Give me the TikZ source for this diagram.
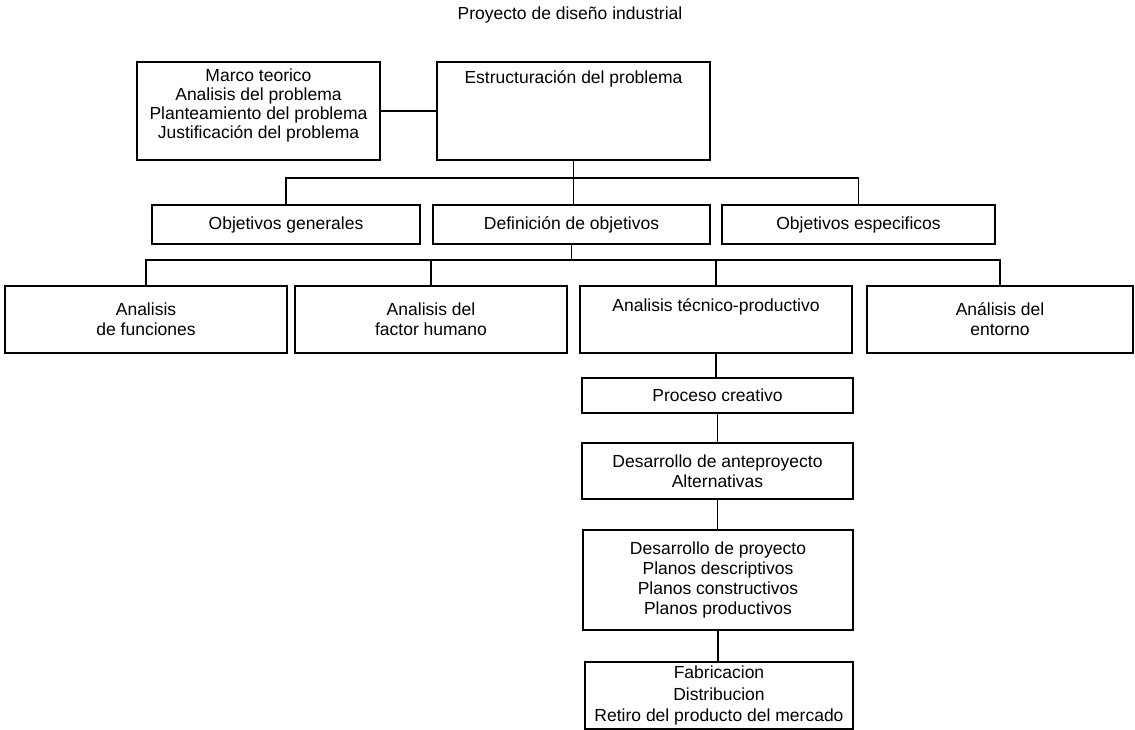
\documentclass[tikz,border=0pt]{standalone}
\usepackage{fontspec}
\setmainfont{Liberation Sans}
\begin{document}
\begin{tikzpicture}[x=1bp,y=-1bp,
  every node/.style={font=\fontsize{17.5bp}{20bp}\selectfont},
  box/.style={draw, line width=2bp, rectangle, inner sep=0pt, align=center},
  link/.style={line width=1.8bp}]
\useasboundingbox (0,0) rectangle (1135,730);

% title
\node (title) at (570,15) {Proyecto de diseño industrial};

% problem structure
\node[box, minimum width=243bp, minimum height=98bp,
      font=\fontsize{17.5bp}{19bp}\selectfont] (marco) at (258.5,111)
  {Marco teorico\\Analisis del problema\\Planteamiento del problema\\Justificación del problema\\[-4bp]\mbox{}};
\node[box, minimum width=273bp, text height=22bp, text depth=76bp] (estr) at (573.5,111)
  {Estructuración del problema};

% objectives
\node[box, minimum width=268bp, minimum height=39bp] (ogen) at (286,224.5) {Objetivos generales};
\node[box, minimum width=277bp, minimum height=39bp] (def) at (571.5,224.5) {Definición de objetivos};
\node[box, minimum width=273bp, minimum height=39bp] (oesp) at (858.5,224.5) {Objetivos especificos};

% analyses
\node[box, minimum width=282bp, minimum height=67bp] (afun) at (146,319.5) {Analisis\\de funciones};
\node[box, minimum width=272bp, minimum height=67bp] (afh) at (431,319.5) {Analisis del\\factor humano};
\node[box, minimum width=272bp, text height=25bp, text depth=42bp] (atec) at (716,319.5)
  {Analisis técnico-productivo};
\node[box, minimum width=266bp, minimum height=67bp] (aent) at (1000,319.5) {Análisis del\\entorno};

% design chain
\node[box, minimum width=271bp, minimum height=35bp] (proc) at (717.5,395) {Proceso creativo};
\node[box, minimum width=271bp, minimum height=56bp] (antep) at (717.5,471)
  {Desarrollo de anteproyecto\\Alternativas};
\node[box, minimum width=270bp, minimum height=100bp] (proy) at (718,580)
  {Desarrollo de proyecto\\Planos descriptivos\\Planos constructivos\\Planos productivos};
\node[box, minimum width=268bp, minimum height=67bp, font=\fontsize{17.5bp}{21.5bp}\selectfont] (fab) at (719,695.5)
  {Fabricacion\\Distribucion\\Retiro del producto del mercado};

% connectors
\draw[link] (marco.east) -- (estr.west);

\path (estr.south) ++(0,17) coordinate (bus1);
\draw[link] (estr.south) -- (bus1);
\draw[link] (ogen.north) |- (bus1) -| (oesp.north);
\draw[link] (bus1) -- (bus1 |- def.north);

\path (def.south) ++(0,15) coordinate (bus2);
\draw[link] (def.south) -- (bus2);
\draw[link] (afun.north) |- (bus2) -| (aent.north);
\draw[link] (afh.north) -- (afh.north |- bus2);
\draw[link] (atec.north) -- (atec.north |- bus2);

\draw[link] (atec.south) -- (atec.south |- proc.north);
\draw[link] (proc.south) -- (proc.south |- antep.north);
\draw[link] (antep.south) -- (antep.south |- proy.north);
\draw[link] (proy.south) -- (proy.south |- fab.north);
\end{tikzpicture}
\end{document}
